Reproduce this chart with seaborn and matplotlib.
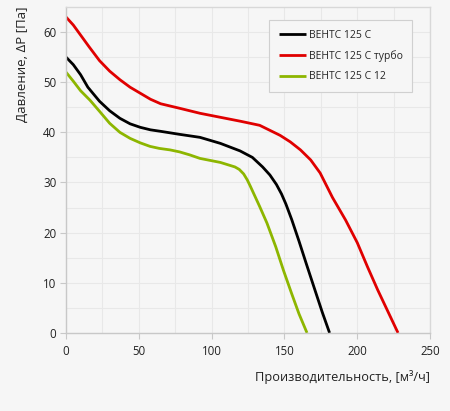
import numpy as np
import pandas as pd
import matplotlib
matplotlib.use("Agg")
import matplotlib.pyplot as plt
import seaborn as sns

# data
names = ["ВЕНТС 125 С", "ВЕНТС 125 С турбо", "ВЕНТС 125 С 12"]
colors = ["#000000", "#e00000", "#8db600"]

x_std = [0, 5, 10, 15, 23, 30, 37, 44, 51, 58, 65, 78, 92, 106, 119.5, 128, 135, 140, 144.5, 148, 151, 155, 160, 165, 171, 176, 181]
y_std = [55, 53.5, 51.5, 49, 46.2, 44.3, 42.8, 41.7, 41.0, 40.5, 40.2, 39.6, 39.0, 37.8, 36.3, 35.0, 33.1, 31.5, 29.6, 27.7, 25.7, 22.6, 18.3, 13.8, 8.5, 4.1, 0]

x_turbo = [0, 5, 10, 16, 23, 30, 37, 44, 51, 58, 65, 78, 92, 106, 120, 133, 140, 147, 154, 161, 168, 174.5, 183, 192, 200, 207, 214, 221, 228]
y_turbo = [63, 61.4, 59.4, 57.0, 54.3, 52.2, 50.5, 49.0, 47.8, 46.6, 45.7, 44.8, 43.8, 43.0, 42.2, 41.4, 40.4, 39.4, 38.1, 36.5, 34.5, 31.9, 27.0, 22.5, 18.0, 13.2, 8.6, 4.3, 0]

x_12 = [0, 5, 10, 16.5, 23, 30, 37, 44, 51, 57.7, 64, 71.4, 78, 85, 92, 106, 116, 119, 122, 124.5, 126.5, 133, 138, 144, 149.3, 155, 160, 165.5]
y_12 = [52, 50.2, 48.3, 46.4, 44.2, 41.8, 40.0, 38.8, 37.9, 37.2, 36.8, 36.5, 36.1, 35.5, 34.8, 34.0, 33.1, 32.6, 31.7, 30.5, 29.3, 25.2, 21.9, 17.2, 12.5, 7.8, 3.8, 0]

frames = []
for n, xs, ys in zip(names, [x_std, x_turbo, x_12], [y_std, y_turbo, y_12]):
    frames.append(pd.DataFrame({"x": xs, "y": ys, "model": n}))
df = pd.concat(frames, ignore_index=True)

sns.set_style("whitegrid")
plt.rcParams["font.family"] = ["Open Sans", "DejaVu Sans"]
bg = "#f6f6f6"
grid_c = "#e8e8e8"

fig = plt.figure(figsize=(4.5, 4.11), dpi=100, facecolor=bg)
ax = fig.add_axes([0.1467, 0.19, 0.809, 0.793], facecolor=bg)

sns.lineplot(data=df, x="x", y="y", hue="model", hue_order=names,
             palette=colors, linewidth=2.0, sort=False, ax=ax,
             solid_joinstyle="round", solid_capstyle="butt")

ax.set_xlim(0, 250)
ax.set_ylim(0, 65)
ax.set_xticks([0, 50, 100, 150, 200, 250])
ax.set_yticks([0, 10, 20, 30, 40, 50, 60])
ax.set_xticks(np.arange(25, 250, 50), minor=True)
ax.set_yticks(np.arange(5, 65, 10), minor=True)
ax.grid(True, which="both", color=grid_c, linewidth=0.8)
ax.set_axisbelow(True)
ax.tick_params(axis="both", which="major", labelsize=8.3, length=4, color="#c8c8c8",
               colors="#222222", direction="out", left=True, bottom=True)
ax.tick_params(axis="y", pad=3)
ax.tick_params(axis="x", pad=5)
ax.tick_params(which="minor", length=0)
for s in ax.spines.values():
    s.set_color("#d8d8d8")
    s.set_linewidth(1.0)
ax.spines["left"].set_color("#c8c8c8")
ax.spines["bottom"].set_color("#c8c8c8")

ax.set_ylabel("Давление, ΔP [Па]", fontsize=9.5, color="#222222")
ax.yaxis.set_label_coords(-0.101, 1.0)
ax.yaxis.label.set_horizontalalignment("right")
ax.set_xlabel("Производительность, [м³/ч]", fontsize=9.2, color="#222222")
ax.xaxis.set_label_coords(1.0, -0.115)
ax.xaxis.label.set_horizontalalignment("right")

leg = ax.legend(title=None, loc="upper right", bbox_to_anchor=(0.965, 0.975),
                fontsize=7.5, frameon=True, fancybox=False, handlelength=2.6,
                handletextpad=0.3, borderpad=0.9, labelspacing=0.9)
leg.get_frame().set_edgecolor("#d0d0d0")
leg.get_frame().set_facecolor(bg)
leg.get_frame().set_alpha(1)
leg.get_frame().set_linewidth(0.8)
for h in leg.get_lines():
    h.set_linewidth(2.0)

fig.savefig("out.png", dpi=100, facecolor=bg)
